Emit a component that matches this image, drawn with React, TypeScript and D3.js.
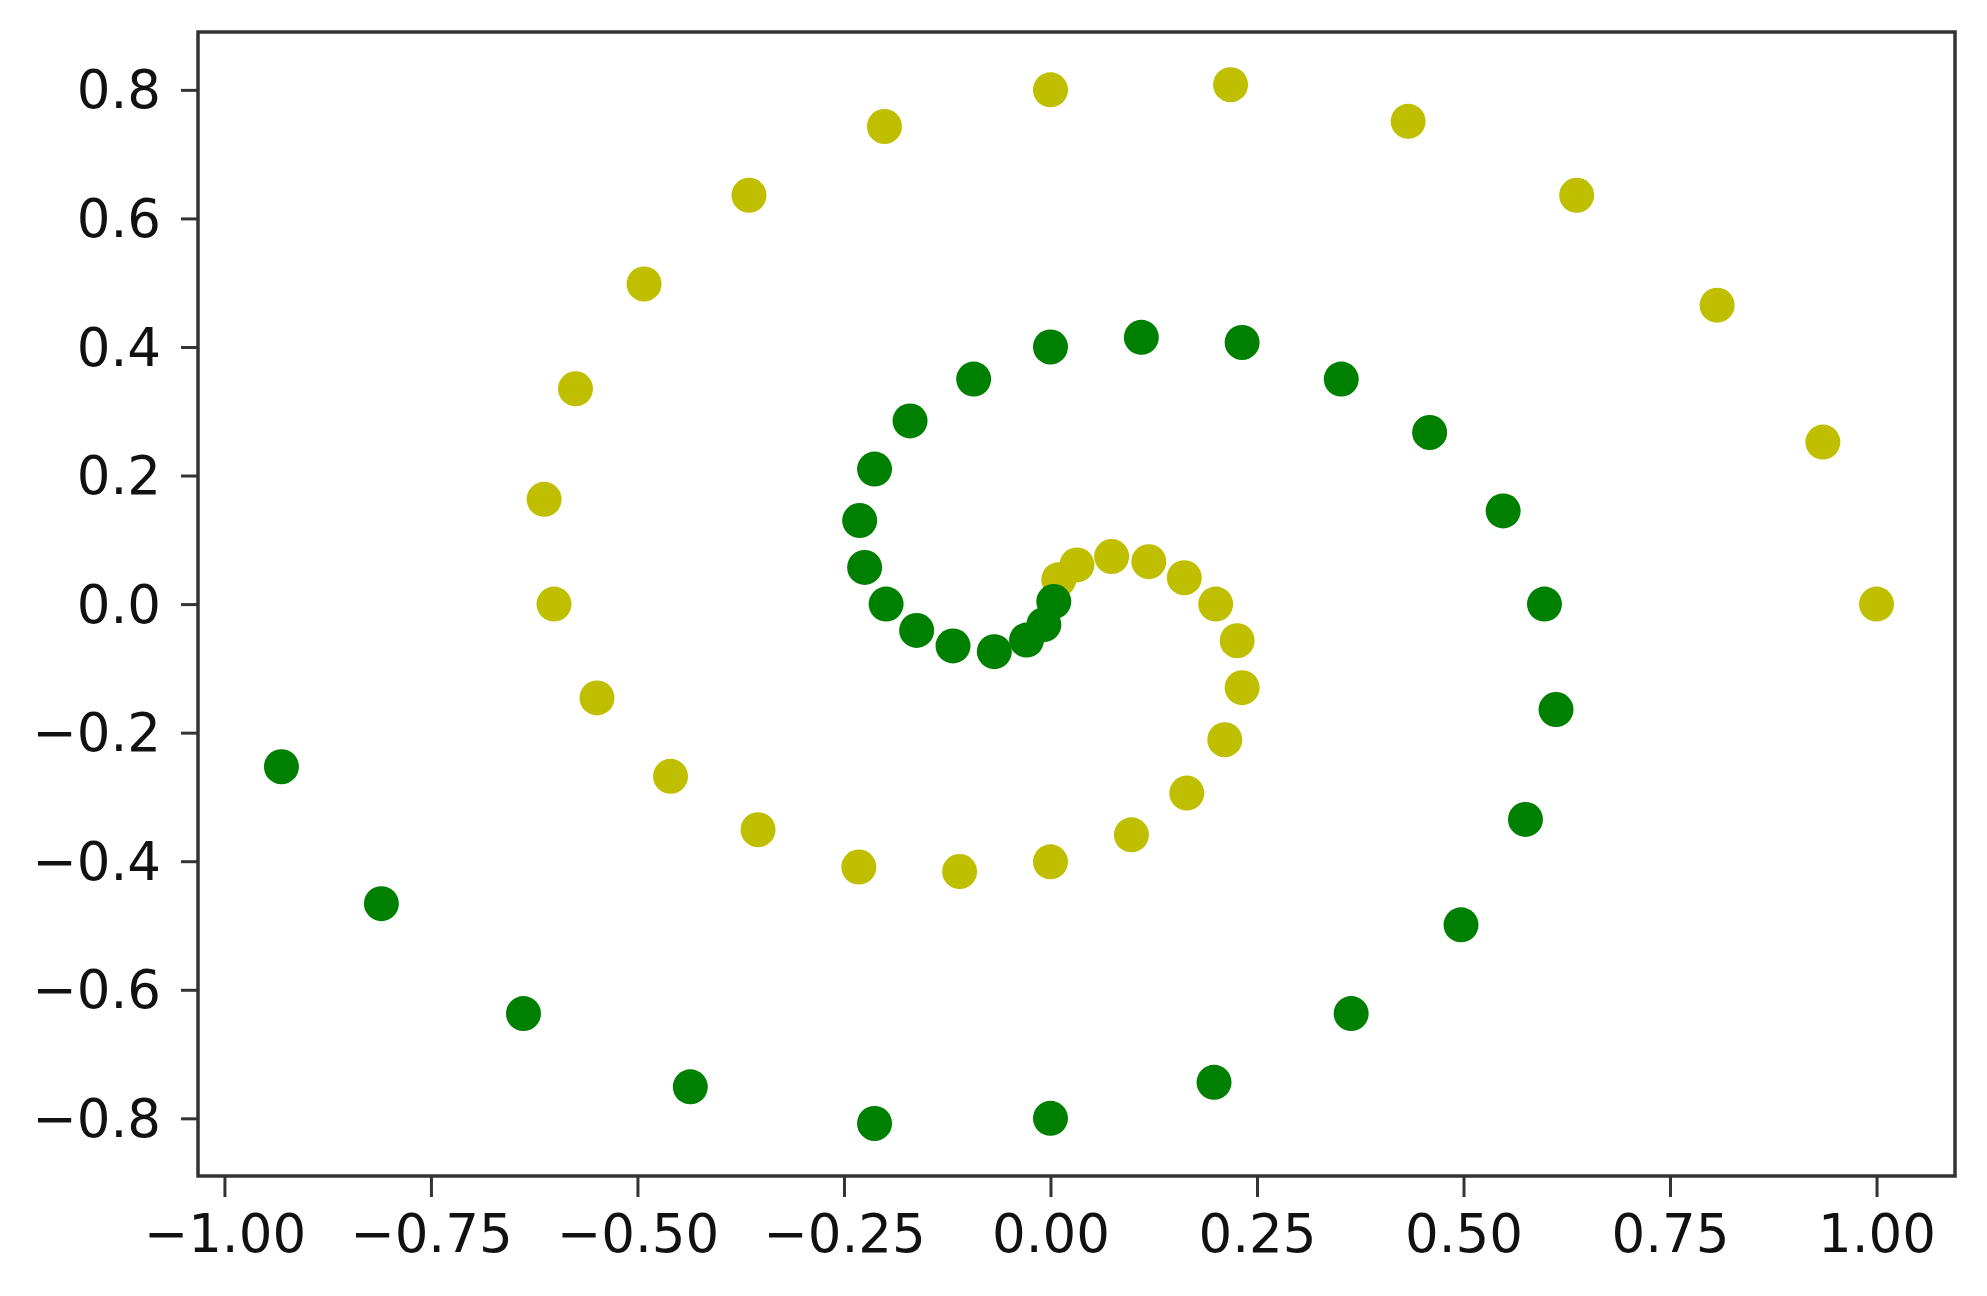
import React, { useRef, useEffect } from 'react';
import * as d3 from 'd3';

// yellow arm, outer end -> centre
const yellowX = [1.0, 0.935, 0.807, 0.637, 0.433, 0.218, 0.0, -0.201, -0.365, -0.492, -0.575, -0.613, -0.601, -0.549, -0.46, -0.354, -0.232, -0.11, 0.0, 0.098, 0.165, 0.211, 0.232, 0.226, 0.2, 0.162, 0.119, 0.074, 0.032, 0.01];
const yellowY = [0.0, 0.252, 0.465, 0.636, 0.751, 0.808, 0.8, 0.743, 0.636, 0.498, 0.335, 0.163, 0.0, -0.146, -0.268, -0.351, -0.409, -0.416, -0.401, -0.359, -0.294, -0.211, -0.13, -0.057, 0.0, 0.041, 0.066, 0.074, 0.061, 0.038];

// green arm, outer end -> centre
const greenX = [-0.931, -0.81, -0.638, -0.436, -0.213, 0.0, 0.198, 0.364, 0.497, 0.575, 0.612, 0.598, 0.548, 0.459, 0.352, 0.232, 0.11, 0.0, -0.093, -0.17, -0.213, -0.231, -0.225, -0.199, -0.162, -0.118, -0.068, -0.029, -0.008, 0.004];
const greenY = [-0.253, -0.466, -0.637, -0.751, -0.808, -0.8, -0.744, -0.637, -0.499, -0.335, -0.164, 0.0, 0.145, 0.267, 0.35, 0.407, 0.415, 0.4, 0.35, 0.285, 0.21, 0.13, 0.057, 0.0, -0.041, -0.065, -0.074, -0.056, -0.032, 0.004];

const xTicks = [-1, -0.75, -0.5, -0.25, 0, 0.25, 0.5, 0.75, 1];
const xTickLabels = ['−1.00', '−0.75', '−0.50', '−0.25', '0.00', '0.25', '0.50', '0.75', '1.00'];
const yTicks = [-0.8, -0.6, -0.4, -0.2, 0, 0.2, 0.4, 0.6, 0.8];
const yTickLabels = ['−0.8', '−0.6', '−0.4', '−0.2', '0.0', '0.2', '0.4', '0.6', '0.8'];

const xDomain = [-1.032, 1.095];
const yDomain = [-0.8897, 0.89];

const W = 1987;
const H = 1296;
const left = 198, right = 1955, top = 32, bottom = 1176;

const App = () => {
  const svgRef = useRef(null);

  useEffect(() => {
    const svg = d3.select(svgRef.current);
    svg.selectAll('*').remove();

    const x = d3.scaleLinear().domain(xDomain).range([left, right]);
    const y = d3.scaleLinear().domain(yDomain).range([bottom, top]);

    const series = [
      { color: '#bfbf00', xs: yellowX, ys: yellowY },
      { color: '#008000', xs: greenX, ys: greenY },
    ];

    series.forEach(s => {
      svg.append('g')
        .selectAll('circle')
        .data(s.xs.map((v, i) => [v, s.ys[i]]))
        .enter().append('circle')
        .attr('cx', d => x(d[0]))
        .attr('cy', d => y(d[1]))
        .attr('r', 17.5)
        .attr('fill', s.color);
    });

    const font = 'DejaVu Sans, sans-serif';

    // x axis
    const xAxis = d3.axisBottom(x)
      .tickValues(xTicks)
      .tickFormat((d, i) => xTickLabels[i])
      .tickSize(21)
      .tickPadding(10)
      .tickSizeOuter(0);
    const gx = svg.append('g').attr('transform', `translate(0,${bottom})`).call(xAxis);
    gx.select('.domain').remove();
    gx.selectAll('line').attr('stroke', '#333').attr('stroke-width', 3);
    gx.selectAll('text')
      .attr('font-family', font)
      .attr('font-size', 53)
      .attr('fill', '#111')
      .attr('dy', null)
      .attr('y', 76);

    // y axis
    const yAxis = d3.axisLeft(y)
      .tickValues(yTicks)
      .tickFormat((d, i) => yTickLabels[i])
      .tickSize(17)
      .tickPadding(20)
      .tickSizeOuter(0);
    const gy = svg.append('g').attr('transform', `translate(${left},0)`).call(yAxis);
    gy.select('.domain').remove();
    gy.selectAll('line').attr('stroke', '#333').attr('stroke-width', 3);
    gy.selectAll('text')
      .attr('font-family', font)
      .attr('font-size', 53)
      .attr('fill', '#111')
      .attr('dy', '0.34em');

    // frame
    svg.append('rect')
      .attr('x', left)
      .attr('y', top)
      .attr('width', right - left)
      .attr('height', bottom - top)
      .attr('fill', 'none')
      .attr('stroke', '#333')
      .attr('stroke-width', 3.5);
  }, []);

  return (
    <div>
      <style>{`body { margin: 0; background: #fff; }`}</style>
      <svg ref={svgRef} width={W} height={H} style={{ display: 'block' }} />
    </div>
  );
};

export default App;
